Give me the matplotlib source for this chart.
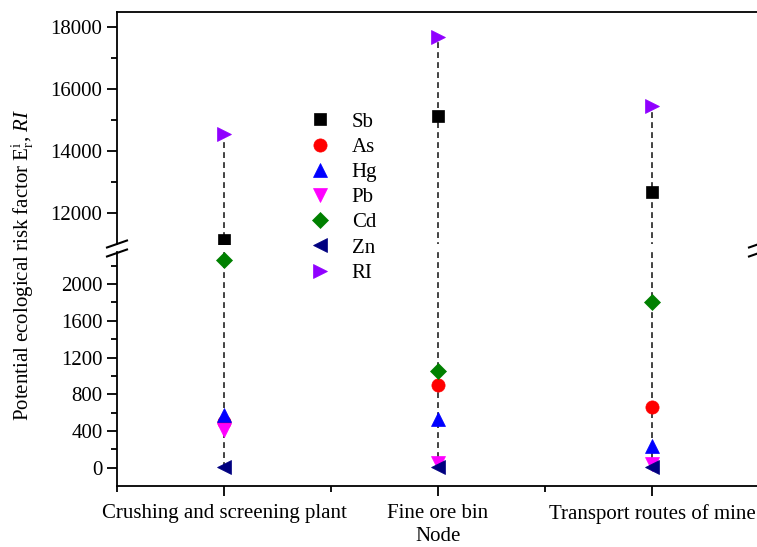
import numpy as np
import matplotlib
matplotlib.use("Agg")
import matplotlib.pyplot as plt
from matplotlib.lines import Line2D
from matplotlib.ticker import FixedLocator

plt.rcParams['font.family'] = ['Liberation Serif', 'DejaVu Serif']
plt.rcParams['mathtext.fontset'] = 'custom'
plt.rcParams['mathtext.rm'] = 'Liberation Serif'
plt.rcParams['mathtext.it'] = 'Liberation Serif:italic'

# data
nodes = ["Crushing and screening plant", "Fine ore bin", "Transport routes of mine"]
Sb = [11130, 15130, 12680]
As = [495, 905, 665]
Hg = [575, 525, 240]
Pb = [405, 50, 40]
Cd = [2260, 1050, 1810]
Zn = [5, 5, 5]
RI = [14550, 17700, 15470]

series = [("Sb", Sb, 's', 'black'),
          ("As", As, 'o', 'red'),
          ("Hg", Hg, '^', 'blue'),
          ("Pb", Pb, 'v', '#FF00FF'),
          ("Cd", Cd, 'D', '#008000'),
          ("Zn", Zn, '<', '#000080'),
          ("RI", RI, '>', '#9000FF')]

W, H = 757, 547
fs = 15


def rect(x0, y0, x1, y1):
    return [x0 / W, 1 - y1 / H, (x1 - x0) / W, (y1 - y0) / H]


fig = plt.figure(figsize=(W / 100, H / 100), dpi=100)
ax_top = fig.add_axes(rect(117, 12, 759, 244))
ax_bot = fig.add_axes(rect(117, 252, 759, 486))

x = np.arange(1, len(nodes) + 1)

for ax in (ax_top, ax_bot):
    # dashed droplines from Zn up to RI
    for i in range(len(nodes)):
        ax.plot([x[i], x[i]], [min(Zn[i], 0), RI[i]], ls=(0, (3.5, 2.5)),
                color='#222222', lw=1.2, zorder=1)
    for name, vals, mk, col in series:
        ms = 9.5
        if mk == 's':
            ms = 8
        if mk == 'D':
            ms = 8.5
        ax.plot(x, vals, ls='none', marker=mk, color=col, ms=ms,
                markeredgewidth=0.5, label=name, zorder=3)
    ax.set_xlim(0.5, 3.5)
    ax.spines['right'].set_visible(False)
    for sp in ax.spines.values():
        sp.set_linewidth(1.3)
    ax.tick_params(axis='both', which='major', direction='out', length=7,
                   width=1.3, labelsize=fs)
    ax.tick_params(axis='both', which='minor', direction='out', length=4,
                   width=1.3)

ax_top.set_ylim(11000, 18500)
ax_top.yaxis.set_major_locator(FixedLocator([12000, 14000, 16000, 18000]))
ax_top.yaxis.set_minor_locator(FixedLocator([13000, 15000, 17000]))
ax_top.spines['bottom'].set_visible(False)
ax_top.set_xticks([])

ax_bot.set_ylim(-200, 2350)
ax_bot.yaxis.set_major_locator(FixedLocator([0, 400, 800, 1200, 1600, 2000]))
ax_bot.yaxis.set_minor_locator(FixedLocator([200, 600, 1000, 1400, 1800, 2200]))
ax_bot.spines['top'].set_visible(False)
ax_bot.set_xticks(x)
ax_bot.set_xticklabels(nodes)
ax_bot.xaxis.set_minor_locator(FixedLocator([0.5, 1.5, 2.5, 3.5]))
ax_bot.tick_params(axis='x', which='major', pad=6)
ax_bot.set_xlabel("Node", fontsize=fs, labelpad=2)

# break marks
for xb in (117, 759):
    for yb in (244, 253):
        fig.add_artist(Line2D([(xb - 10) / W, (xb + 10) / W],
                              [1 - (yb + 3.5) / H, 1 - (yb - 3.5) / H],
                              transform=fig.transFigure, color='black', lw=1.5))

fig.text(23 / W, 1 - 265 / H,
         r"Potential ecological risk factor E$_\mathrm{r}^\mathrm{i}$, $\mathit{RI}$",
         rotation=90, ha='center', va='center', fontsize=fs)

handles, labels = ax_top.get_legend_handles_labels()
fig.legend(handles, labels, loc='upper left', bbox_to_anchor=(310 / W, 1 - 112 / H),
           frameon=False, fontsize=fs, handlelength=1.0, handletextpad=1.0,
           labelspacing=0.27, borderpad=0, borderaxespad=0, numpoints=1)

fig.savefig("out.png", dpi=100)
